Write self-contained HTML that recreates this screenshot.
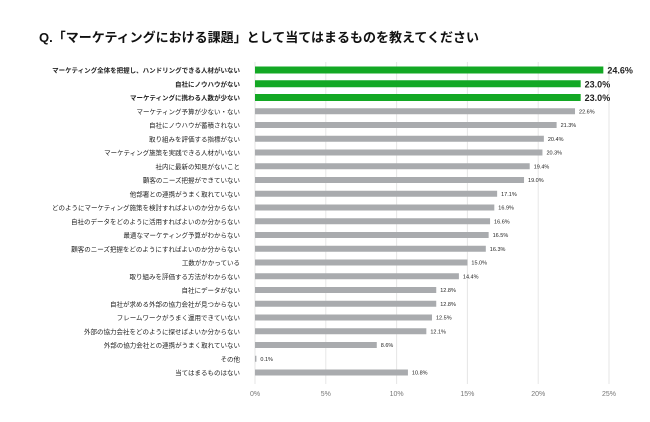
<!DOCTYPE html>
<html><head><meta charset="utf-8"><style>
body{margin:0;background:#fff;}
svg{display:block;font-family:"Liberation Sans","Noto Sans CJK JP",sans-serif;}
</style></head><body>
<svg id="c" width="650" height="422">
<text x="39" y="42" font-size="13" font-weight="bold" fill="#111">Q.「マーケティングにおける課題」として当てはまるものを教えてください</text>
<g id="grid"></g><g id="bars"></g>
</svg>
<script>
const categories=["マーケティング全体を把握し、ハンドリングできる人材がいない","自社にノウハウがない","マーケティングに携わる人数が少ない","マーケティング予算が少ない・ない","自社にノウハウが蓄積されない","取り組みを評価する指標がない","マーケティング施策を実践できる人材がいない","社内に最新の知見がないこと","顧客のニーズ把握ができていない","他部署との連携がうまく取れていない","どのようにマーケティング施策を検討すればよいのか分からない","自社のデータをどのように活用すればよいのか分からない","最適なマーケティング予算がわからない","顧客のニーズ把握をどのようにすればよいのか分からない","工数がかかっている","取り組みを評価する方法がわからない","自社にデータがない","自社が求める外部の協力会社が見つからない","フレームワークがうまく運用できていない","外部の協力会社をどのように探せばよいか分からない","外部の協力会社との連携がうまく取れていない","その他","当てはまるものはない"];
const values=[24.6,23.0,23.0,22.6,21.3,20.4,20.3,19.4,19.0,17.1,16.9,16.6,16.5,16.3,15.0,14.4,12.8,12.8,12.5,12.1,8.6,0.1,10.8];
const ticks=[0,5,10,15,20,25];
const NS="http://www.w3.org/2000/svg";
const x0=255,k=14.16,y0=70,step=13.75;
const xs=v=>x0+v*k, ys=i=>y0+i*step;
function mk(t,a,p){const e=document.createElementNS(NS,t);for(const n in a)e.setAttribute(n,a[n]);p.appendChild(e);return e;}
const g=document.getElementById('grid'),b=document.getElementById('bars');
ticks.forEach(t=>{
 const l=mk('line',{x1:xs(t),x2:xs(t),y1:62,y2:384,stroke:'#e6e6e6','stroke-width':1},g);
 
 
 const tx=mk('text',{x:xs(t),y:396,'font-size':7,fill:'#777','text-anchor':'middle'},g);
 tx.textContent=t+'%';
 
 
});
categories.forEach((c,i)=>{
 const top=i<3,y=ys(i);
 const lb=mk('text',{x:240,y:y+2.5,'font-size':6.5,fill:'#222','text-anchor':'end','font-weight':top?'bold':'normal'},b);
 lb.textContent=c;
 
 
 const h=top?7:6;
 const r=mk('rect',{x:x0,y:y-h/2,width:Math.max(values[i]*k,1),height:h,fill:top?'#13a824':'#a9abae'},b);
 
 
 const v=mk('text',{x:xs(values[i])+4,y:y+(top?3.5:2),'font-size':top?9:5.5,fill:'#222','font-weight':top?'bold':'normal'},b);
 v.textContent=values[i].toFixed(1)+'%';
 
 
});
</script>
</body></html>
